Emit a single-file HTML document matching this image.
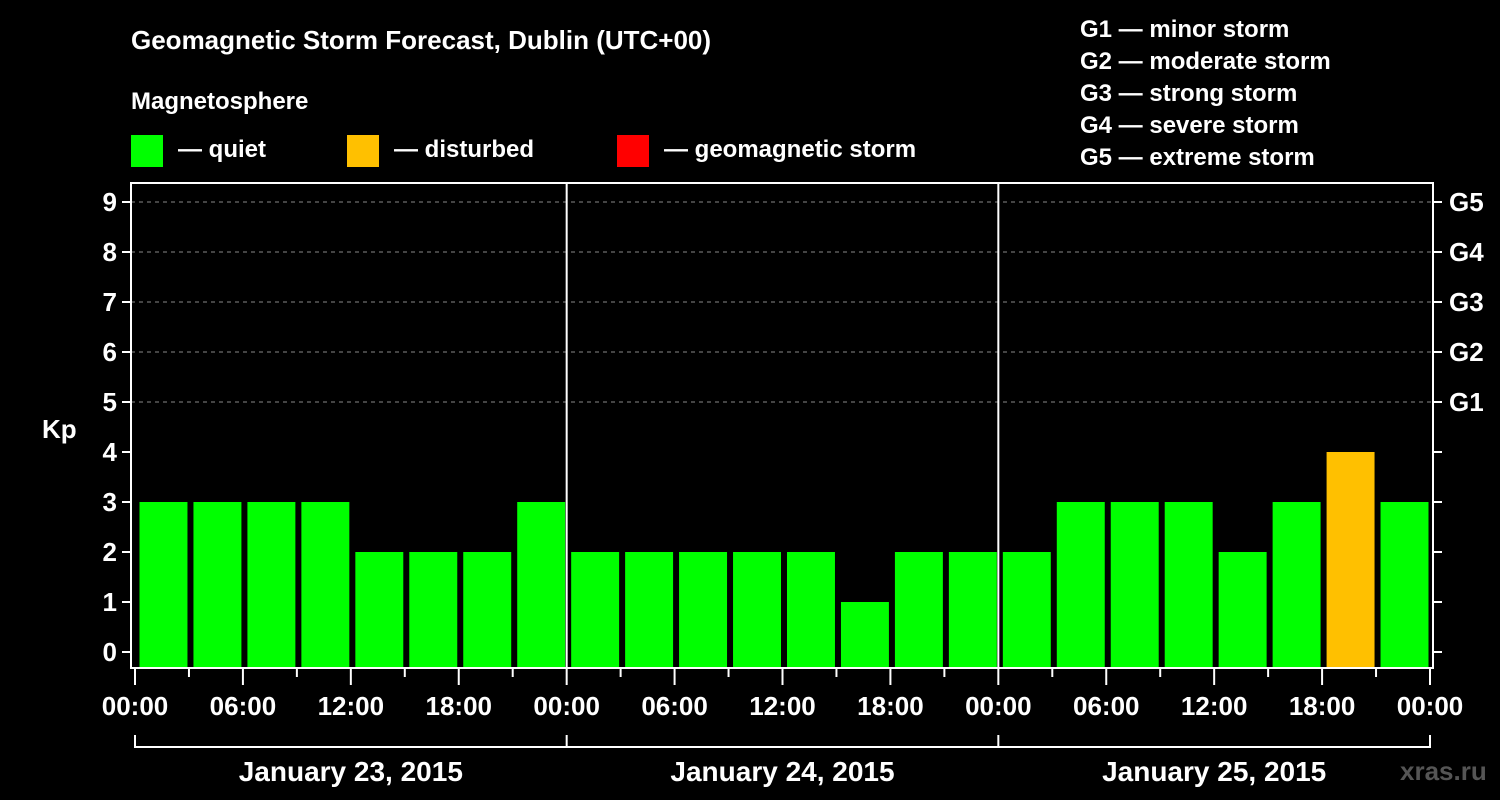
<!DOCTYPE html>
<html><head><meta charset="utf-8"><style>
body{margin:0;background:#000;}
svg{display:block;font-family:"Liberation Sans",sans-serif;font-weight:bold;}
</style></head><body>
<svg id="c" width="1500" height="800" viewBox="0 0 1500 800">
<rect width="1500" height="800" fill="#000"/>
<text x="131" y="49" fill="#fff" font-size="26">Geomagnetic Storm Forecast, Dublin (UTC+00)</text>
<text x="131" y="109" fill="#fff" font-size="24">Magnetosphere</text>
<g><rect x="131" y="135" width="32" height="32" fill="#00ff00"/><text x="178" y="157" fill="#fff" font-size="24">— quiet</text></g>
<g><rect x="347" y="135" width="32" height="32" fill="#ffc000"/><text x="394" y="157" fill="#fff" font-size="24">— disturbed</text></g>
<g><rect x="617" y="135" width="32" height="32" fill="#ff0000"/><text x="664" y="157" fill="#fff" font-size="24">— geomagnetic storm</text></g>
<g fill="#fff" font-size="24">
<text x="1080" y="37">G1 — minor storm</text><text x="1080" y="69">G2 — moderate storm</text><text x="1080" y="101">G3 — strong storm</text><text x="1080" y="133">G4 — severe storm</text><text x="1080" y="165">G5 — extreme storm</text>
</g>
<text x="42" y="438" fill="#fff" font-size="26">Kp</text>
<text x="1400" y="780" fill="#555" font-size="26">xras.ru</text>
<g id="g"></g>
</svg>
<script>
const kpValues=[3,3,3,3,2,2,2,3, 2,2,2,2,2,1,2,2, 2,3,3,3,2,3,4,3];
const dayLabels=["January 23, 2015","January 24, 2015","January 25, 2015"];
const hourLabels=["00:00","06:00","12:00","18:00"];
const yTicks=[0,1,2,3,4,5,6,7,8,9];
const gLabels={5:"G1",6:"G2",7:"G3",8:"G4",9:"G5"};
const NS="http://www.w3.org/2000/svg",g=document.getElementById('g');
const L=131,R=1433,T=183,B=668,X0=135,X1=1430;
const slotW=(X1-X0)/kpValues.length;
const y=v=>652-v*50, x=i=>X0+i*slotW;
function mk(t,a){const e=document.createElementNS(NS,t);for(const k in a)e.setAttribute(k,a[k]);g.appendChild(e);return e;}
yTicks.forEach(v=>{
 if(v>=5){const l=mk('line',{x1:L,x2:R,y1:y(v),y2:y(v),stroke:'#888','stroke-dasharray':'4,4'});
 
 }
 const t1=mk('line',{x1:L-9,x2:L,y1:y(v),y2:y(v),stroke:'#fff','stroke-width':2});
 
 
 const t2=mk('line',{x1:R,x2:R+9,y1:y(v),y2:y(v),stroke:'#fff','stroke-width':2});
 
 
 const tx=mk('text',{x:L-14,y:y(v)+9,fill:'#fff','font-size':26,'text-anchor':'end'});tx.textContent=v;
 
 
 if(gLabels[v]){const gt=mk('text',{x:R+16,y:y(v)+9,fill:'#fff','font-size':26});gt.textContent=gLabels[v];
 
 }
});
kpValues.forEach((v,i)=>{
 const r=mk('rect',{x:x(i)+4.5,width:slotW-6,y:y(v),height:B-y(v),fill:v>=5?'#ff0000':v>=4?'#ffc000':'#00ff00'});
 
 
});
const fr=mk('rect',{x:L,y:T,width:R-L,height:B-T,fill:'none',stroke:'#fff','stroke-width':2});


for(let d=1;d<dayLabels.length;d++){const l=mk('line',{x1:x(d*8),x2:x(d*8),y1:T,y2:B,stroke:'#fff','stroke-width':2});
 
 }
for(let i=0;i<=kpValues.length;i++){
 const major=i%2===0;
 const t=mk('line',{x1:x(i),x2:x(i),y1:B,y2:B+(major?17:9),stroke:'#fff','stroke-width':2});
 
 
 if(major){const tx=mk('text',{x:x(i),y:715,fill:'#fff','font-size':26,'text-anchor':'middle'});tx.textContent=hourLabels[(i/2)%4];
 
 }
}
const br=mk('path',{d:`M${X0},735V747H${x(kpValues.length)}V735`,fill:'none',stroke:'#fff','stroke-width':2});


dayLabels.forEach((s,d)=>{
 if(d>0){const l=mk('line',{x1:x(d*8),x2:x(d*8),y1:735,y2:747,stroke:'#fff','stroke-width':2});
 
 }
 const tx=mk('text',{x:(x(d*8)+x(d*8+8))/2,y:781,fill:'#fff','font-size':28,'text-anchor':'middle'});tx.textContent=s;
 
 
});
</script>
</body></html>
